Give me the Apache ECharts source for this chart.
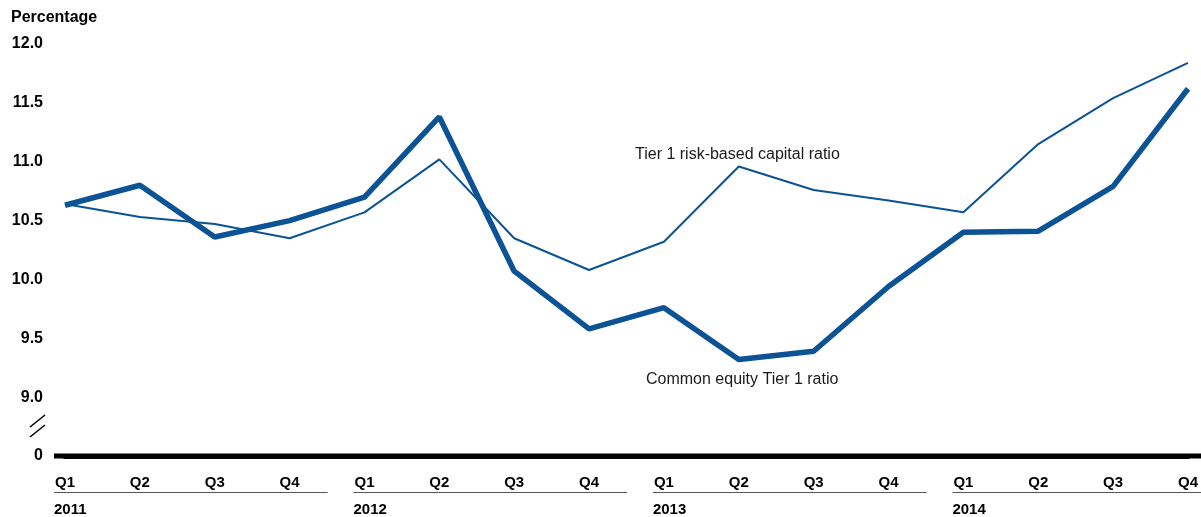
<!DOCTYPE html>
<html>
<head>
<meta charset="utf-8">
<script src="https://cdn.jsdelivr.net/npm/echarts@6/dist/echarts.min.js"></script>
<style>
html,body{margin:0;padding:0;background:#fff;}
#chart{width:1201px;height:517px;}
</style>
</head>
<body>
<div id="chart"></div>
<script>
var quarters = ['Q1','Q2','Q3','Q4'];
var years = ['2011','2012','2013','2014'];
var tier1 = [10.64,10.53,10.47,10.35,10.57,11.02,10.35,10.08,10.32,10.96,10.76,10.67,10.57,11.15,11.54,11.84];
var cet1 = [10.63,10.80,10.36,10.50,10.70,11.38,10.07,9.58,9.76,9.32,9.39,9.94,10.40,10.41,10.79,11.62];
var yTicks = ['0','9.0','9.5','10.0','10.5','11.0','11.5','12.0'];
var tier1Label = 'Tier 1 risk-based capital ratio';
var cet1Label = 'Common equity Tier 1 ratio';

var categories = [];
years.forEach(function(y){ quarters.forEach(function(q){ categories.push(q + ' ' + y); }); });

var FONT = '"Liberation Sans", Arial, sans-serif';
var BLUE = '#0b5394';
var chart = echarts.init(document.getElementById('chart'), null, {renderer:'canvas'});

var option = {
  animation: false,
  backgroundColor: '#fff',
  title: {
    text: 'Percentage', left: 6, top: 5,
    textStyle: {fontFamily: FONT, fontSize: 16, fontWeight: 'bold', color: '#000'}
  },
  grid: {left: 65, right: 13, top: 44, bottom: 61},
  xAxis: {
    type: 'category', data: categories, boundaryGap: false,
    axisLine: {show: true, lineStyle: {color: '#000', width: 5}},
    axisTick: {show: false},
    splitLine: {show: false},
    axisLabel: {
      margin: 19, fontFamily: FONT, fontSize: 15, fontWeight: 'bold', color: '#000',
      interval: 0,
      formatter: function(v){ return v.split(' ')[0]; }
    }
  },
  yAxis: {
    type: 'value', min: 8.5, max: 12, interval: 0.5,
    axisLine: {show: false}, axisTick: {show: false}, splitLine: {show: false},
    axisLabel: {
      margin: 22, fontFamily: FONT, fontSize: 16, fontWeight: 'bold', color: '#000',
      padding: [8, 0, 0, 0],
      formatter: function(v){ var i = Math.round((v - 8.5) / 0.5); return yTicks[i]; }
    }
  },
  series: [
    {name: tier1Label, type: 'line', data: tier1, symbol: 'none',
     lineStyle: {color: BLUE, width: 2}, z: 3},
    {name: cet1Label, type: 'line', data: cet1, symbol: 'none',
     lineStyle: {color: BLUE, width: 5.5}, z: 4}
  ]
};
chart.setOption(option);

function px(i, v){ return chart.convertToPixel({xAxisIndex:0, yAxisIndex:0}, [i, v]); }
var base = px(0, 8.5);
var baseY = base[1];
var g = [];
// baseline extension
g.push({type:'line', shape:{x1:54, y1:baseY, x2:1201, y2:baseY}, style:{stroke:'#000', lineWidth:5}, z:10});
// axis break
g.push({type:'line', shape:{x1:30, y1:427, x2:45, y2:415}, style:{stroke:'#000', lineWidth:1.6}});
g.push({type:'line', shape:{x1:30, y1:437, x2:45, y2:425}, style:{stroke:'#000', lineWidth:1.6}});
// year groups
years.forEach(function(y, k){
  var a = px(k*4, 8.5)[0], b = px(k*4+3, 8.5)[0];
  var x2 = (k === years.length - 1) ? 1201 : b + 38;
  g.push({type:'line', shape:{x1:a-11, y1:492.5, x2:x2, y2:492.5}, style:{stroke:'#555', lineWidth:1}});
  g.push({type:'text', x:a-11, y:510, style:{text:y, font:'bold 15px ' + FONT, fill:'#000', textVerticalAlign:'middle', verticalAlign:'middle'}});
});
// series annotations
var pA = px(9, 11.06);
g.push({type:'text', x:635, y:pA[1], style:{text:tier1Label, font:'16px ' + FONT, fill:'#1a1a1a', textVerticalAlign:'middle', verticalAlign:'middle'}});
var pB = px(9, 9.15);
g.push({type:'text', x:646, y:pB[1], style:{text:cet1Label, font:'16px ' + FONT, fill:'#1a1a1a', textVerticalAlign:'middle', verticalAlign:'middle'}});
chart.setOption({graphic: g});
</script>
</body>
</html>
